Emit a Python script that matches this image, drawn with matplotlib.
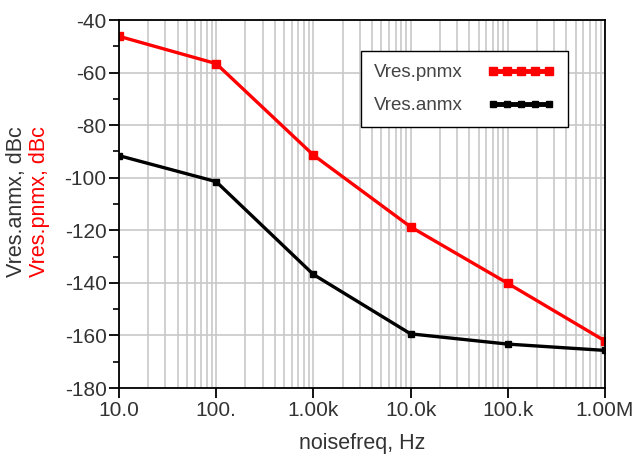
import matplotlib.pyplot as plt
from matplotlib.ticker import LogLocator, FixedLocator, MultipleLocator

plt.rcParams['font.family'] = ['Liberation Sans', 'DejaVu Sans']
plt.rcParams['axes.unicode_minus'] = False

freq = [10, 100, 1e3, 1e4, 1e5, 1e6]
pnmx = [-46.2, -56.6, -91.4, -118.7, -140.2, -162.1]
anmx = [-91.6, -101.5, -136.8, -159.4, -163.3, -165.7]
xtick_labels = ['10.0', '100.', '1.00k', '10.0k', '100.k', '1.00M']

fig = plt.figure(figsize=(6.33, 4.59), dpi=100)
ax = fig.add_axes([119 / 633, 1 - 388 / 459, 486 / 633, 368 / 459])

ax.plot(freq, pnmx, color='#ff0000', lw=2.4, marker='s', ms=5.5, label='Vres.pnmx')
ax.plot(freq, anmx, color='black', lw=2.4, marker='s', ms=4.5, label='Vres.anmx')

ax.set_xscale('log')
ax.set_xlim(10, 1e6)
ax.set_ylim(-180, -40)
ax.xaxis.set_major_locator(FixedLocator(freq))
ax.set_xticklabels(xtick_labels)
ax.xaxis.set_minor_locator(LogLocator(base=10, subs=range(2, 10), numticks=20))
ax.yaxis.set_major_locator(MultipleLocator(20))
ax.yaxis.set_minor_locator(MultipleLocator(10))

ax.grid(True, which='major', color='#c8c8c8', lw=1.2)
ax.grid(True, which='minor', axis='x', color='#c8c8c8', lw=1.2)
ax.tick_params(axis='both', which='major', length=7, width=1.3, labelsize=15,
               colors='black', labelcolor='#333333', pad=2)
ax.tick_params(axis='x', which='minor', length=0)
ax.tick_params(axis='y', which='minor', length=4, width=1.2)
for s in ax.spines.values():
    s.set_linewidth(1.3)

ax.set_xlabel('noisefreq, Hz', fontsize=15.5, color='#333333', labelpad=10)

fig.text(17 / 633, 0.56, 'Vres.anmx, dBc', rotation=90, color='#333333',
         fontsize=15.5, ha='center', va='center')
fig.text(40 / 633, 0.56, 'Vres.pnmx, dBc', rotation=90, color='#ff0000',
         fontsize=15.5, ha='center', va='center')

leg = ax.legend(loc='upper left', bbox_to_anchor=((361 - 119) / 486, (388 - 51) / 368),
                markerfirst=False, numpoints=5, handlelength=3.6, fontsize=13.5,
                fancybox=False, edgecolor='black', framealpha=1,
                borderpad=0.7, labelspacing=0.85, handletextpad=1.3, borderaxespad=0)
leg.get_frame().set_linewidth(1.0)
for t in leg.get_texts():
    t.set_color('#444444')
for h in leg.legend_handles:
    h.set_linewidth(3.5)

fig.savefig('out.png', dpi=100)
